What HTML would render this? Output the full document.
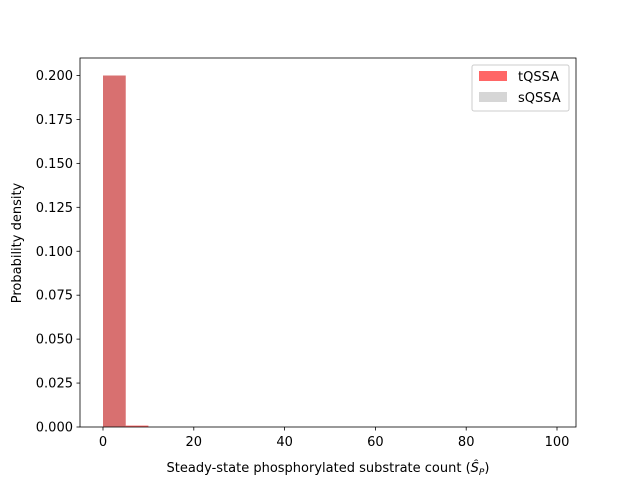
<!DOCTYPE html>
<html><head><meta charset="utf-8"><style>
body{margin:0;background:#fff;}
text{font-family:"DejaVu Sans","Liberation Sans",sans-serif;font-size:13px;fill:#000;}
</style></head><body>
<svg width="640" height="480" xmlns="http://www.w3.org/2000/svg">
<rect width="640" height="480" fill="#fff"/>
<g id="bars"></g>
<rect x="80" y="58" width="496" height="369" fill="none" stroke="#000" stroke-width="0.8"/>
<g id="xt"></g><g id="yt"></g>
<text x="328" y="472" text-anchor="middle">Steady-state phosphorylated substrate count (<tspan font-style="italic">Ŝ</tspan><tspan font-size="9" dy="3" font-style="italic">P</tspan><tspan dy="-3">)</tspan></text>
<text transform="translate(21,243) rotate(-90)" text-anchor="middle">Probability density</text>
<g>
<rect x="472" y="65" width="97" height="46" fill="#fff" stroke="#ccc" rx="2"/>
<rect x="479" y="71" width="28" height="10" fill="#ff6666"/>
<text x="518" y="81">tQSSA</text>
<rect x="479" y="92" width="28" height="10" fill="#d6d6d6"/>
<text x="518" y="102">sQSSA</text>
</g>
</svg>
<script>
const binEdges=[0,5,10];
const tqssaVals=[0.2,0.0008];
const sqssaVals=[0.2,0];
const xTicks=[0,20,40,60,80,100];
const yTicks=[0,0.025,0.05,0.075,0.1,0.125,0.15,0.175,0.2];
const yTickLabels=["0.000","0.025","0.050","0.075","0.100","0.125","0.150","0.175","0.200"];
const X=v=>103+(v)*4.54, Y=v=>427-v*(351.5/0.2);
const ns="http://www.w3.org/2000/svg";
const bars=document.getElementById('bars');
function bar(vals,color,op,name){vals.forEach((v,i)=>{if(v<=0)return;
const r=document.createElementNS(ns,'rect');
r.setAttribute('x',X(binEdges[i]));r.setAttribute('width',X(binEdges[i+1])-X(binEdges[i]));
r.setAttribute('y',Y(v));r.setAttribute('height',Math.max(1,427-Y(v)));
r.setAttribute('fill',color);r.setAttribute('fill-opacity',op);


bars.appendChild(r);});}
bar(tqssaVals,'#ff0000','0.6','tqssa');
bar(sqssaVals,'#858585','0.32','sqssa');
const xt=document.getElementById('xt');
xTicks.forEach(t=>{const x=X(t);
const l=document.createElementNS(ns,'line');l.setAttribute('x1',x);l.setAttribute('x2',x);l.setAttribute('y1',427);l.setAttribute('y2',430.5);l.setAttribute('stroke','#000');l.setAttribute('stroke-width','0.8');


xt.appendChild(l);
const s=document.createElementNS(ns,'text');s.setAttribute('x',x);s.setAttribute('y',446);s.setAttribute('text-anchor','middle');s.textContent=t;


xt.appendChild(s);});
const yt=document.getElementById('yt');
yTicks.forEach((t,i)=>{const y=Y(t);
const l=document.createElementNS(ns,'line');l.setAttribute('x1',76.5);l.setAttribute('x2',80);l.setAttribute('y1',y);l.setAttribute('y2',y);l.setAttribute('stroke','#000');l.setAttribute('stroke-width','0.8');


yt.appendChild(l);
const s=document.createElementNS(ns,'text');s.setAttribute('x',73);s.setAttribute('y',y+4.5);s.setAttribute('text-anchor','end');s.textContent=yTickLabels[i];


yt.appendChild(s);});
</script>
</body></html>
